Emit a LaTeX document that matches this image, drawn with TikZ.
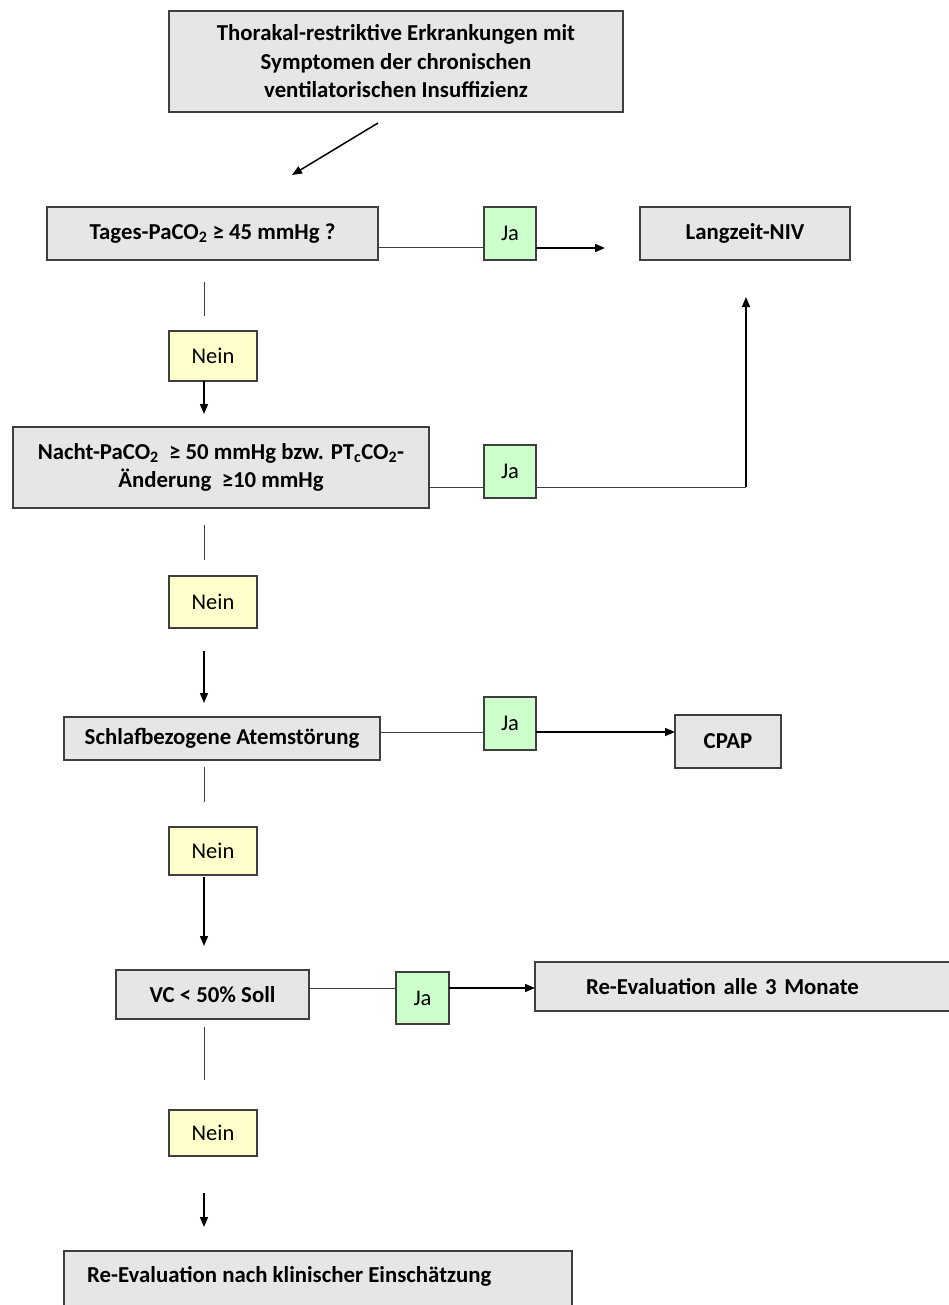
\documentclass[tikz,border=0pt]{standalone}
\usepackage{fontspec}
\setmainfont{Carlito}
\usetikzlibrary{arrows.meta,shadows}
\definecolor{boxgray}{HTML}{E6E6E6}
\definecolor{boxline}{HTML}{3F3F3F}
\definecolor{yesgreen}{HTML}{CCFFCC}
\definecolor{noyellow}{HTML}{FFFFCC}
\begin{document}
\begin{tikzpicture}[x=1pt,y=-1pt,
  shad/.style={drop shadow={shadow xshift=1.2pt,shadow yshift=-1.2pt,fill=black!55,opacity=0.6}},
  box/.style={draw=boxline,line width=1.3pt,fill=boxgray,inner sep=0pt,outer sep=0pt,shad,
    font=\fontsize{22.8}{28.5}\selectfont\bfseries,align=center},
  ja/.style={draw=boxline,line width=1.3pt,fill=yesgreen,inner sep=0pt,outer sep=0pt,shad,
    minimum width=52pt,font=\fontsize{22.5}{26}\selectfont},
  nein/.style={draw=boxline,line width=1.3pt,fill=noyellow,inner sep=0pt,outer sep=0pt,shad,
    minimum width=88pt,font=\fontsize{22.5}{26}\selectfont},
  thin/.style={draw=boxline,line width=1pt},
  arr/.style={draw=black,line width=1.5pt,-{Triangle[length=10pt,width=8pt]}}
]
\useasboundingbox (0,0) rectangle (949,1305);

% nodes
\node[box,minimum width=454pt,minimum height=101pt] (top) at (396,61.5)
  {Thorakal-restriktive Erkrankungen mit\\Symptomen der chronischen\\ventilatorischen Insuffizienz};
\node[box,minimum width=331pt,minimum height=53pt] (tages) at (212.5,233.5)
  {Tages-PaCO\textsubscript{2} ≥ 45 mmHg ?};
\node[ja,minimum height=53pt] (ja1) at (510,233.5) {Ja};
\node[box,minimum width=210pt,minimum height=53pt] (niv) at (745,233.5) {Langzeit-NIV};

\node[nein,minimum height=50pt] (nein1) at (213,356) {Nein};
\node[box,minimum width=416pt,minimum height=81pt] (nacht) at (221,467.5)
  {Nacht-PaCO\textsubscript{2}~ ≥ 50 mmHg bzw. PT\textsubscript{c}CO\textsubscript{2}-\\Änderung~ ≥10 mmHg};
\node[ja,minimum height=53pt] (ja2) at (510,471.5) {Ja};

\node[nein,minimum height=52pt] (nein2) at (213,602) {Nein};
\node[box,minimum width=316pt,minimum height=43pt] (schlaf) at (222,738.5)
  {Schlafbezogene Atemstörung};
\node[ja,minimum height=53pt] (ja3) at (510,723.5) {Ja};
\node[box,minimum width=106pt,minimum height=53pt] (cpap) at (728,741.5) {CPAP};

\node[nein,minimum height=48pt] (nein3) at (213,851) {Nein};
\node[box,minimum width=193pt,minimum height=49pt] (vc) at (212.5,994.5) {VC < 50\% Soll};
\node[ja,minimum width=53pt,minimum height=52pt] (ja4) at (422.5,998) {Ja};
\node[box,minimum width=425pt,minimum height=49pt,align=left,text width=323pt] (re3) at (747.5,986.5)
  {Re-Evaluation alle 3 Monate};

\node[nein,minimum height=46pt] (nein4) at (213,1133) {Nein};
\node[box,minimum width=508pt,minimum height=64pt,anchor=north west] (ref) at (64,1251) {};
\node[font=\fontsize{22.8}{28.5}\selectfont\bfseries,anchor=west,inner sep=0pt] (reftext) at (87,1276)
  {Re-Evaluation nach klinischer Einschätzung};

% free end points
\coordinate (d1) at (378,123);
\coordinate (d2) at (292,175);
\coordinate (a1end) at (605,248);
\coordinate (v1a) at (204,282);
\coordinate (v1b) at (204,316);
\coordinate (n1a) at (204,381);
\coordinate (n1b) at (204,414);
\coordinate (corner) at (746,487);
\coordinate (upend) at (746,297);
\coordinate (v2a) at (204,525);
\coordinate (v2b) at (204,560);
\coordinate (n2a) at (204,651);
\coordinate (n2b) at (204,703);
\coordinate (v3a) at (204,767);
\coordinate (v3b) at (204,802);
\coordinate (n3a) at (204,877);
\coordinate (n3b) at (204,946);
\coordinate (v4a) at (204,1027);
\coordinate (v4b) at (204,1080);
\coordinate (n4a) at (204,1193);
\coordinate (n4b) at (204,1227);

% connectors
\draw[arr] (d1) -- (d2);
\draw[thin] (tages.east |- a1end) -- (ja1.west |- a1end);
\draw[arr] (ja1.east |- a1end) -- (a1end);
\draw[thin] (v1a) -- (v1b);
\draw[arr] (n1a) -- (n1b);

\draw[thin] (nacht.east |- corner) -- (ja2.west |- corner);
\draw[thin] (ja2.east |- corner) -- (corner);
\draw[arr] (corner) -- (upend);
\draw[thin] (v2a) -- (v2b);
\draw[arr] (n2a) -- (n2b);

\coordinate (y3) at (0,732);
\draw[thin] (schlaf.east |- y3) -- (ja3.west |- y3);
\draw[arr] (ja3.east |- y3) -- (cpap.west |- y3);
\draw[thin] (v3a) -- (v3b);
\draw[arr] (n3a) -- (n3b);

\coordinate (y4) at (0,988);
\draw[thin] (vc.east |- y4) -- (ja4.west |- y4);
\draw[arr] (ja4.east |- y4) -- (re3.west |- y4);
\draw[thin] (v4a) -- (v4b);
\draw[arr] (n4a) -- (n4b);
\end{tikzpicture}
\end{document}
